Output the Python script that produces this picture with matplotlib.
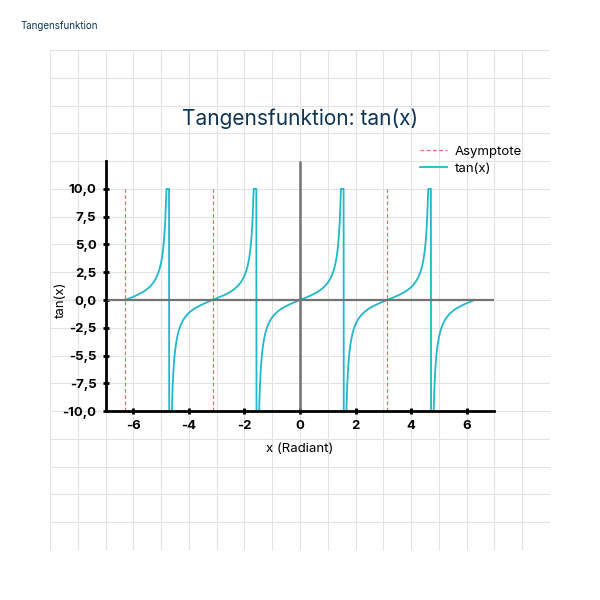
import numpy as np
import matplotlib.pyplot as plt
from matplotlib.ticker import MultipleLocator

# chart data
x_start, x_end = -2 * np.pi, 2 * np.pi
clip_limit = 10
asymptote_x = [-2 * np.pi, -np.pi, 0, np.pi]
x_ticks = [-6, -4, -2, 0, 2, 4, 6]
y_ticks = [10, 7.5, 5, 2.5, 0, -2.5, -5, -7.5, -10]
y_ticklabels = ['10,0', '7,5', '5,0', '2,5', '0,0', '-2,5', '-5,5', '-7,5', '-10,0']

plt.rcParams['font.family'] = ['Inter', 'DejaVu Sans']
navy = '#0d3556'
cyan = '#1fb8cc'

x = np.linspace(x_start, x_end, 4000)
y = np.clip(np.tan(x), -clip_limit, clip_limit)

fig = plt.figure(figsize=(6, 6), dpi=100)
ax = fig.add_axes([50 / 600, 50 / 600, 500 / 600, 500 / 600])
ax.set_xlim(-9, 9)
ax.set_ylim(-22.5, 22.5)

# background grid
ax.xaxis.set_minor_locator(MultipleLocator(1))
ax.yaxis.set_minor_locator(MultipleLocator(2.5))
ax.grid(which='both', color='#e3e3e3', lw=0.8)
ax.tick_params(which='minor', length=0)
ax.set_axisbelow(True)

ax.vlines(asymptote_x, -clip_limit, clip_limit, colors='#f26b6b', linestyles=(0, (3, 2)),
          lw=0.9, label='Asymptote', zorder=2)
ax.plot(x, y, color=cyan, lw=1.3, label='tan(x)', zorder=3)

ax.hlines(0, -7, 7, color='#737373', lw=1.6, zorder=4)
ax.vlines(0, -10, 12.5, color='#737373', lw=1.8, zorder=4)

for s in ['top', 'right']:
    ax.spines[s].set_visible(False)
ax.spines['left'].set_position(('data', -7))
ax.spines['left'].set_bounds(-10, 12.5)
ax.spines['bottom'].set_position(('data', -10))
ax.spines['bottom'].set_bounds(-7, 7)
for s in ['left', 'bottom']:
    ax.spines[s].set_linewidth(2)
    ax.spines[s].set_zorder(5)

ax.set_xticks(x_ticks)
ax.set_xticklabels([str(t) for t in x_ticks])
ax.set_yticks(y_ticks)
ax.set_yticklabels(y_ticklabels)
ax.tick_params(which='major', direction='inout', length=5, width=2, labelsize=9.5, pad=4)
for lbl in ax.get_xticklabels() + ax.get_yticklabels():
    lbl.set_fontweight('bold')

ax.text(0, -13.4, 'x (Radiant)', ha='center', va='center', fontsize=9.5)
ax.text(-8.6, 0, 'tan(x)', ha='center', va='center', rotation=90, fontsize=9.5)
ax.text(0, 16.3, 'Tangensfunktion: tan(x)', ha='center', va='center', fontsize=15, color=navy)

ax.legend(loc='upper right', bbox_to_anchor=(527 / 600, 1 - 140 / 600),
          bbox_transform=fig.transFigure, frameon=False, fontsize=9.5,
          handlelength=2, borderaxespad=0, handletextpad=0.6, labelspacing=0.4)

fig.text(20 / 600, 1 - 26 / 600, 'Tangensfunktion', fontsize=7, color=navy, va='center')

fig.savefig('out.png', dpi=100)
